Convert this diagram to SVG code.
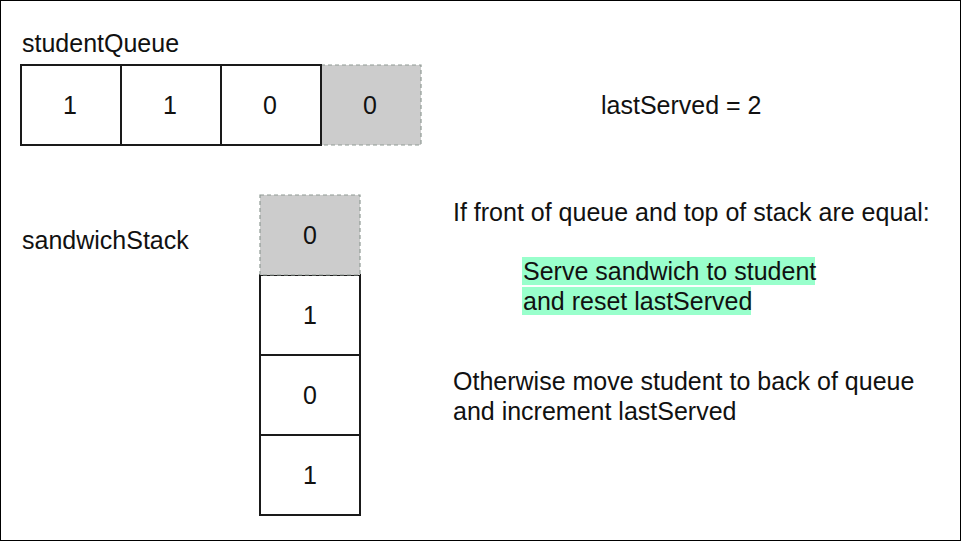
<svg xmlns="http://www.w3.org/2000/svg" width="961" height="541" viewBox="0 0 961 541">
<style>
text{font-family:"Liberation Sans",Arial,sans-serif;font-size:25px;fill:#111}
.c{text-anchor:middle}
.box{fill:#fff;stroke:#1a1a1a;stroke-width:2}
.gray{fill:#cccccc;stroke:#8f9a94;stroke-width:1.2;stroke-dasharray:4 3}
.hl{fill:#99ffcc}
</style>
<rect x="0.5" y="0.5" width="960" height="540" fill="#fff" stroke="#000" stroke-width="1"/>
<text x="22" y="52">studentQueue</text>
<g id="queue">
<g id="q4"><rect class="gray" x="321" y="65" width="100" height="80"/><text class="c" x="370" y="114">0</text></g>
<g id="q1"><rect class="box" x="21" y="65" width="100" height="80"/><text class="c" x="70" y="114">1</text></g>
<g id="q2"><rect class="box" x="121" y="65" width="100" height="80"/><text class="c" x="170" y="114">1</text></g>
<g id="q3"><rect class="box" x="221" y="65" width="100" height="80"/><text class="c" x="270" y="114">0</text></g>
</g>
<text x="601" y="114">lastServed = 2</text>
<text x="22" y="249">sandwichStack</text>
<g id="stack">
<g id="s2"><rect class="box" x="260" y="275" width="100" height="80"/><text class="c" x="310" y="324">1</text></g>
<g id="s3"><rect class="box" x="260" y="355" width="100" height="80"/><text class="c" x="310" y="404">0</text></g>
<g id="s4"><rect class="box" x="260" y="435" width="100" height="80"/><text class="c" x="310" y="484">1</text></g>
<g id="s1"><rect class="gray" x="260" y="195" width="100" height="80"/><text class="c" x="310" y="244">0</text></g>
</g>
<g id="rules">
<text x="453" y="221">If front of queue and top of stack are equal:</text>
<rect class="hl" x="522" y="257" width="293" height="28"/>
<rect class="hl" x="522" y="287" width="229" height="28"/>
<text x="523" y="280">Serve sandwich to student</text>
<text x="523" y="310">and reset lastServed</text>
<text x="453" y="390">Otherwise move student to back of queue</text>
<text x="453" y="420">and increment lastServed</text>
</g>
<g id="connectors"></g>
</svg>
